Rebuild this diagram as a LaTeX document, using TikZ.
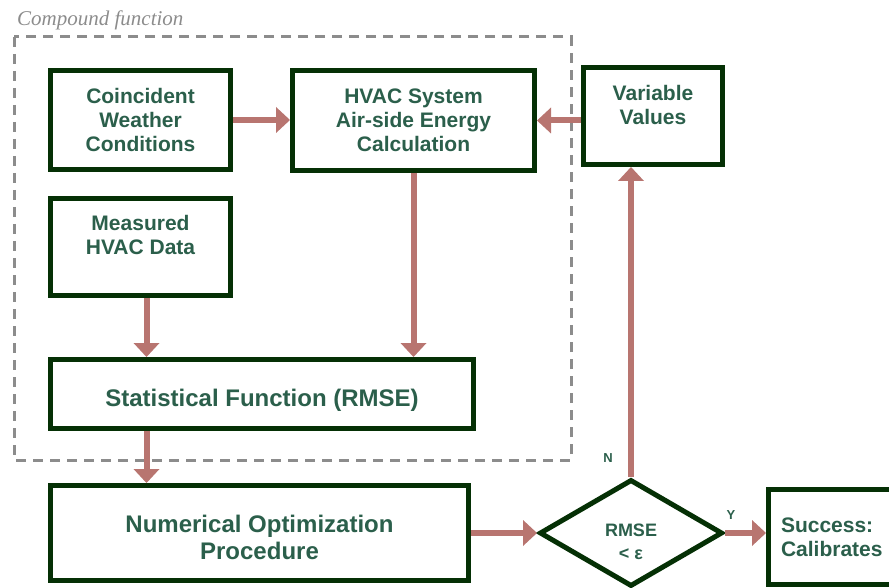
\documentclass[tikz,border=0pt]{standalone}
\usepackage{fontspec}
\setmainfont{Liberation Sans}
\newfontfamily\capfont{Liberation Serif}
\usepackage{tikz}
\usetikzlibrary{arrows.meta,shapes.geometric}
\usepackage{xcolor}
\definecolor{boxgreen}{RGB}{5,48,5}
\definecolor{txtgreen}{RGB}{43,95,75}
\definecolor{arrowrose}{RGB}{184,117,112}
\definecolor{dashgray}{RGB}{140,140,140}

\begin{document}
\begin{tikzpicture}[x=1pt,y=-1pt,
    blk/.style={draw=boxgreen,line width=5pt,fill=white,inner sep=0pt,align=center,
        text=txtgreen,font=\bfseries\fontsize{21}{24}\selectfont},
    lbl/.style={text=txtgreen,align=center,inner sep=0pt,font=\bfseries\fontsize{21}{24}\selectfont},
    biglbl/.style={lbl,font=\bfseries\fontsize{24}{27}\selectfont},
    flow/.style={draw=arrowrose,line width=6pt,-{Triangle[width=26pt,length=14pt,line width=0pt]}}]
    \useasboundingbox (0,0) rectangle (889,588);
    % Compound function frame
    \draw[dashgray,line width=3pt,dash pattern=on 10pt off 7pt] (14,37) rectangle (571,460);
    \node[anchor=base west,inner sep=0pt,text=dashgray,font=\capfont\itshape\fontsize{21}{24}\selectfont]
        (cmp) at (17,26) {Compound function};
    % Inputs
    \node[blk,minimum width=180pt,minimum height=99pt] (cwc) at (140.5,120) {Coincident\\Weather\\Conditions};
    \node[blk,minimum width=242pt,minimum height=100pt] (hvac) at (413.5,120.5) {HVAC System\\Air-side Energy\\Calculation};
    \node[blk,minimum width=139pt,minimum height=97pt] (var) at (653,116) {};
        \node[lbl] (varl) at (653,104.5) {Variable\\Values};
    \node[blk,minimum width=180pt,minimum height=97pt] (meas) at (140.5,247) {};
        \node[lbl] (measl) at (140.5,234.5) {Measured\\HVAC Data};
    % Statistics and optimisation
    \node[blk,minimum width=423pt,minimum height=69pt] (stat) at (262,394) {};
        \node[biglbl] (statl) at (262,400) {Statistical Function (RMSE)};
    \node[blk,minimum width=418pt,minimum height=95pt] (opt) at (259.5,533) {};
        \node[biglbl] (optl) at (259.5,537.5) {Numerical Optimization\\Procedure};
    % Decision
    \node[blk,diamond,minimum width=183pt,minimum height=107pt] (dec) at (631,533) {};
        \node[lbl,font=\bfseries\fontsize{18}{23}\selectfont] (decl) at (631,541.5) {RMSE\\< ε};
    \node[blk,minimum width=140pt,minimum height=95pt,text width=115pt,inner xsep=12.5pt,align=left]
        (succ) at (838.5,537) {Success:\\Calibrates};
    % Connectors
    \draw[flow] (cwc.east) -- (cwc.east -| hvac.west);
    \draw[flow] (hvac.east -| var.west) -- (hvac.east);
    \draw[flow] (hvac.south) -- (hvac.south |- stat.north);
    \coordinate (mtop) at ([xshift=6pt]meas.south);
    \draw[flow] (mtop) -- (mtop |- stat.north);
    \draw[flow] (stat.south -| mtop) -- (mtop |- opt.north);
    \draw[flow] (opt.east) -- (dec.west);
    \draw[flow] (dec.north) -- (dec.north |- var.south);
    \draw[flow] (dec.east) -- (dec.east -| succ.west);
    % Branch labels
    \node[lbl,font=\bfseries\fontsize{13}{15}\selectfont] (nlbl) at (608,458) {N};
    \node[lbl,font=\bfseries\fontsize{13}{15}\selectfont] (ylbl) at (731,515) {Y};
\end{tikzpicture}
\end{document}
